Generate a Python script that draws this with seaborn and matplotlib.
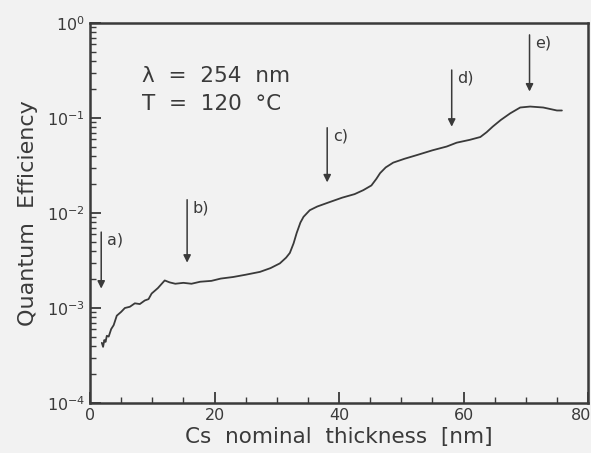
import matplotlib
matplotlib.use("Agg")
import matplotlib.pyplot as plt
import matplotlib.transforms as mtransforms
import pandas as pd
import seaborn as sns
from matplotlib.ticker import FixedLocator, MultipleLocator, LogLocator, NullFormatter

# Photoemission yield vs. Cs coverage (lambda = 254 nm, T = 120 C)
thickness = [1.9, 2.1, 2.3, 2.5, 2.7, 3.0, 3.4, 3.8, 4.3, 5.0, 5.6, 6.4, 7.2, 8.0,
             8.8, 9.4, 9.9, 10.9, 12.0, 12.8, 13.7, 15.0, 16.3, 17.7, 19.5, 21.0,
             23.0, 25.0, 27.3, 29.0, 30.5, 31.5, 32.1, 32.7, 33.2, 33.8, 34.3,
             35.3, 36.5, 38.3, 40.5, 42.5, 43.9, 45.2, 46.0, 46.6, 47.5, 48.7,
             50.5, 52.5, 55.0, 57.3, 58.9, 61.0, 62.7, 63.7, 64.7, 66.0, 67.5,
             69.1, 70.7, 72.8, 75.0, 75.8]
efficiency = [4.3e-4, 3.9e-4, 4.6e-4, 4.4e-4, 5.1e-4, 5.0e-4, 6.0e-4, 6.6e-4,
              8.3e-4, 9.1e-4, 1.0e-3, 1.03e-3, 1.12e-3, 1.10e-3, 1.20e-3, 1.24e-3,
              1.42e-3, 1.62e-3, 1.95e-3, 1.86e-3, 1.80e-3, 1.84e-3, 1.80e-3,
              1.89e-3, 1.93e-3, 2.04e-3, 2.12e-3, 2.24e-3, 2.40e-3, 2.63e-3,
              2.95e-3, 3.39e-3, 3.80e-3, 4.79e-3, 6.17e-3, 7.94e-3, 9.12e-3,
              1.07e-2, 1.17e-2, 1.29e-2, 1.45e-2, 1.58e-2, 1.74e-2, 1.95e-2,
              2.29e-2, 2.63e-2, 3.02e-2, 3.39e-2, 3.72e-2, 4.07e-2, 4.57e-2,
              5.01e-2, 5.50e-2, 5.89e-2, 6.31e-2, 7.08e-2, 8.13e-2, 9.55e-2,
              0.112, 0.129, 0.132, 0.129, 0.120, 0.120]

# Marked stages of the deposition
stage_labels = ["a)", "b)", "c)", "d)", "e)"]
stage_x = [1.8, 15.6, 38.1, 58.1, 70.6]
stage_top = [6.3e-3, 1.38e-2, 7.9e-2, 0.32, 0.75]
stage_bottom = [1.6e-3, 3.0e-3, 2.1e-2, 0.081, 0.19]

x_ticks = [0, 20, 40, 60, 80]
y_ticks = [1e-4, 1e-3, 1e-2, 1e-1, 1e0]
y_ticklabels = [r"$10^{-4}$", r"$10^{-3}$", r"$10^{-2}$", r"$10^{-1}$", r"$10^{0}$"]

sns.set_theme(style="ticks")
plt.rcParams["font.family"] = ["DejaVu Sans"]

ink = "#3a3a3a"
paper = "#f2f2f2"

fig = plt.figure(figsize=(5.91, 4.53), dpi=100, facecolor=paper)
ax = fig.add_axes([0.1523, 0.1104, 0.8427, 0.8388])
ax.set_facecolor(paper)

df = pd.DataFrame({"thickness": thickness, "efficiency": efficiency})
sns.lineplot(data=df, x="thickness", y="efficiency", ax=ax, color=ink,
             linewidth=1.3, estimator=None, sort=False)

ax.set_yscale("log")
ax.set_xlim(0, 80)
ax.set_ylim(1e-4, 1e0)

ax.xaxis.set_major_locator(FixedLocator(x_ticks))
ax.xaxis.set_minor_locator(MultipleLocator(5))
ax.set_xticklabels([str(t) for t in x_ticks])
ax.yaxis.set_major_locator(FixedLocator(y_ticks))
ax.yaxis.set_minor_locator(LogLocator(base=10, subs=range(2, 10), numticks=20))
ax.yaxis.set_minor_formatter(NullFormatter())
ax.set_yticklabels(y_ticklabels)

ax.tick_params(which="both", direction="in", colors=ink, labelcolor=ink,
               top=False, right=False, labelsize=11.5)
ax.tick_params(which="major", length=8, width=1.3)
ax.tick_params(which="minor", length=4, width=1.0)
for s in ax.spines.values():
    s.set_color(ink)
    s.set_linewidth(1.8)

# keep the last x tick label inside the canvas
last = ax.get_xticklabels()[-1]
last.set_transform(last.get_transform() +
                   mtransforms.ScaledTranslation(-7 / 100, 0, fig.dpi_scale_trans))

ax.set_xlabel("Cs  nominal  thickness  [nm]", fontsize=15.5, color=ink, labelpad=3)
ax.set_ylabel("Quantum  Efficiency", fontsize=16, color=ink, labelpad=6)

for lab, x, yt, yb in zip(stage_labels, stage_x, stage_top, stage_bottom):
    ax.annotate("", xy=(x, yb), xytext=(x, yt),
                arrowprops=dict(arrowstyle="-|>", color=ink, lw=1.1,
                                mutation_scale=11, shrinkA=0, shrinkB=0))
    ax.text(x + 0.9, yt * 0.82, lab, fontsize=11.5, color=ink, va="center", ha="left")

ax.text(0.105, 0.86, "λ  =  254  nm", transform=ax.transAxes, fontsize=15.5,
        color=ink, va="center")
ax.text(0.105, 0.787, "T  =  120  °C", transform=ax.transAxes, fontsize=15.5,
        color=ink, va="center")

fig.savefig("out.png", dpi=100, facecolor=paper)
